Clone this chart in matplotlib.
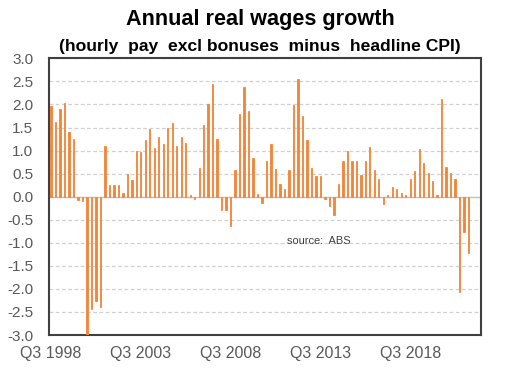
import numpy as np
import matplotlib
matplotlib.use('Agg')
import matplotlib.pyplot as plt

plt.rcParams['font.family'] = ['Liberation Sans', 'DejaVu Sans']

# quarterly, Q3 1998 .. Q4 2021
start_year, start_q = 1998, 3
wages = [1.96, 1.63, 1.90, 2.04, 1.41, 1.25, -0.07, -0.09, -3.0, -2.43, -2.27, -2.40, 1.09, 0.25, 0.25,
         0.25, 0.09, 0.50, 0.36, 1.00, 0.98, 1.22, 1.47, 1.06, 1.30, 1.14, 1.49, 1.60, 1.09, 1.30, 1.17,
         0.03, -0.06, 0.62, 1.55, 2.01, 2.44, 1.25, -0.28, -0.28, -0.64, 0.57, 1.79, 2.37, 1.85, 0.84, 0.05,
         -0.14, 0.77, 1.14, 0.60, 0.28, 0.17, 0.57, 1.99, 2.56, 1.75, 1.22, 0.62, 0.44, 0.44, -0.06,
         -0.20, -0.40, 0.28, 0.77, 0.99, 0.77, 0.77, 0.46, 0.77, 1.07, 0.57, 0.39, -0.15, 0.04, 0.20, 0.17,
         0.09, 0.04, 0.39, 0.55, 1.04, 0.72, 0.52, 0.33, 0.04, 2.12, 0.65, 0.52, 0.39, -2.07, -0.77, -1.23]

quarters = []
y, q = start_year, start_q
for _ in wages:
    quarters.append(f'Q{q} {y}')
    q += 1
    if q > 4:
        q, y = 1, y + 1

tick_labels = ['Q3 1998', 'Q3 2003', 'Q3 2008', 'Q3 2013', 'Q3 2018']
yticks = np.arange(-3.0, 3.01, 0.5)

fig = plt.figure(figsize=(5.28, 3.84), dpi=100)
ax = fig.add_axes([0.0922, 0.1276, 0.818, 0.7204])

x = np.arange(len(wages))
ax.bar(x, wages, width=0.3, color='#F28538', edgecolor='#F28538', linewidth=0.6, zorder=3)

for yy in yticks:
    if abs(yy) < 1e-9:
        continue
    ax.axhline(yy, color='#D0D0D0', lw=0.9, ls=(0, (3, 2)), zorder=1)
ax.axhline(0, color='#BFBFBF', lw=1.0, zorder=2)

ax.set_xlim(-0.52, 95.67)
ax.set_ylim(-3.0, 3.0)
ax.set_yticks(yticks)
ax.set_yticklabels([f'{v:.1f}' for v in yticks])
ax.set_xticks([quarters.index(t) for t in tick_labels])
ax.set_xticklabels(tick_labels)
ax.tick_params(axis='y', length=0, pad=11, labelsize=11, labelcolor='#595959')
ax.tick_params(axis='x', length=0, pad=8, labelsize=11.5, labelcolor='#595959')
for s in ax.spines.values():
    s.set_color('#404040')
    s.set_linewidth(1.5)

ax.text(0.552, 0.34, 'source:  ABS', transform=ax.transAxes, fontsize=7.9,
        color='#404040', va='center', ha='left')

fig.text(0.4925, 0.948, 'Annual real wages growth', ha='center', va='center',
         fontsize=15.6, fontweight='bold')
fig.text(0.4925, 0.88, '(hourly  pay  excl bonuses  minus  headline CPI)', ha='center', va='center',
         fontsize=12.6, fontweight='bold')

fig.savefig('out.png', dpi=100)
